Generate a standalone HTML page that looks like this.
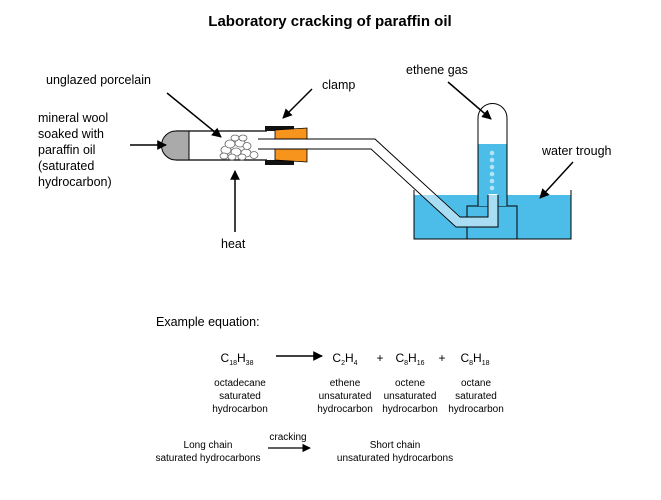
<!DOCTYPE html>
<html><head><meta charset="utf-8"><style>
html,body{margin:0;padding:0;background:#fff;}
svg{display:block;font-family:"Liberation Sans",sans-serif;}
</style></head><body>
<svg width="661" height="500" viewBox="0 0 661 500">
<defs><marker id="ah" viewBox="0 0 10 10" refX="9" refY="5" markerWidth="6.5" markerHeight="6.5" orient="auto"><path d="M0,0L10,5L0,10z" fill="#000"/></marker>
<clipPath id="wc"><rect x="414" y="195" width="157" height="44"/></clipPath></defs>
<text x="330" y="26" text-anchor="middle" font-size="15" font-weight="bold">Laboratory cracking of paraffin oil</text>

<g>
<path d="M176,131 H267 M176,160 H267" stroke="#000" stroke-width="1.2" fill="none"/>
<path d="M176,131 A14.5,14.5 0 0 0 176,160 H189 V131 Z" fill="#aaa" stroke="#000" stroke-width="1"/>
</g>
<g fill="#fff" stroke="#666" stroke-width="0.8">
<ellipse cx="226" cy="150" rx="5" ry="4"/><ellipse cx="236" cy="152" rx="5" ry="4"/><ellipse cx="246" cy="153" rx="5" ry="4"/><ellipse cx="254" cy="155" rx="4" ry="3.5"/>
<ellipse cx="224" cy="156" rx="4" ry="3"/><ellipse cx="232" cy="157" rx="4" ry="3"/><ellipse cx="242" cy="157" rx="4" ry="3"/>
<ellipse cx="230" cy="144" rx="5" ry="4"/><ellipse cx="240" cy="143" rx="5" ry="4"/><ellipse cx="247" cy="146" rx="4" ry="3.5"/><ellipse cx="235" cy="138" rx="4" ry="3"/><ellipse cx="243" cy="138" rx="4" ry="3"/>
</g>
<g>
<rect x="265" y="126" width="29" height="5" fill="#111"/><rect x="265" y="160" width="29" height="5" fill="#111"/>
<path d="M275,130 L307,128 V162 L275,160 Z" fill="#f7941d" stroke="#000" stroke-width="0.8"/>
</g>
<g>
<rect x="414" y="195" width="157" height="44" fill="#4bbde8"/>
<path d="M414,190 V239 H571 V190" stroke="#000" stroke-width="1" fill="none"/>
<rect x="467" y="206" width="50" height="33" fill="#4bbde8" stroke="#000" stroke-width="1"/>
</g>
<g>
<path d="M478,206 V118 A14.5,14.5 0 0 1 507,118 V206" fill="#fff" stroke="#000" stroke-width="1"/>
<rect x="478.5" y="144" width="28" height="62" fill="#4bbde8"/>
<g fill="#b5e4f7"><circle cx="492" cy="153" r="2.3"/><circle cx="492" cy="160" r="2.3"/><circle cx="492" cy="167" r="2.3"/><circle cx="492" cy="174" r="2.3"/><circle cx="492" cy="181" r="2.3"/><circle cx="492" cy="188" r="2.3"/></g>
</g>
<g fill="none">
<path d="M258,144 H373 L458,222 H493 V195" stroke="#000" stroke-width="11" stroke-linejoin="miter"/>
<path d="M258,144 H373 L458,222 H493 V194" stroke="#fff" stroke-width="9" stroke-linejoin="miter"/>
<path d="M258,144 H373 L458,222 H493 V194" stroke="#a8ddf3" stroke-width="9" stroke-linejoin="miter" clip-path="url(#wc)"/>
</g>

<g stroke="#000" stroke-width="1.5" marker-end="url(#ah)">
<line x1="130" y1="145" x2="166" y2="145"/>
<line x1="167" y1="93" x2="221" y2="137"/>
<line x1="312" y1="89" x2="283" y2="118"/>
<line x1="235" y1="232" x2="235" y2="171"/>
<line x1="448" y1="82" x2="491" y2="119"/>
<line x1="573" y1="162" x2="540" y2="198"/>
</g>
<g font-size="12.5">
<text x="46" y="84">unglazed porcelain</text>
<text x="322" y="89">clamp</text>
<text x="406" y="74">ethene gas</text>
<text x="542" y="155">water trough</text>
<text x="221" y="248">heat</text>
<text x="38" y="122"><tspan x="38">mineral wool</tspan><tspan x="38" dy="16">soaked with</tspan><tspan x="38" dy="16">paraffin oil</tspan><tspan x="38" dy="16">(saturated</tspan><tspan x="38" dy="16">hydrocarbon)</tspan></text>
<text x="156" y="326">Example equation:</text>
</g>
<g font-size="12" text-anchor="middle">
<text x="237" y="362">C<tspan font-size="7" dy="3">18</tspan><tspan dy="-3">H</tspan><tspan font-size="7" dy="3">38</tspan></text>
<text x="345" y="362">C<tspan font-size="7" dy="3">2</tspan><tspan dy="-3">H</tspan><tspan font-size="7" dy="3">4</tspan></text>
<text x="380" y="362">+</text>
<text x="410" y="362">C<tspan font-size="7" dy="3">8</tspan><tspan dy="-3">H</tspan><tspan font-size="7" dy="3">16</tspan></text>
<text x="442" y="362">+</text>
<text x="475" y="362">C<tspan font-size="7" dy="3">8</tspan><tspan dy="-3">H</tspan><tspan font-size="7" dy="3">18</tspan></text>
</g>
<line x1="276" y1="356" x2="322" y2="356" stroke="#000" stroke-width="1.5" marker-end="url(#ah)"/>
<g font-size="10" text-anchor="middle">
<text x="240" y="386"><tspan x="240">octadecane</tspan><tspan x="240" dy="13">saturated</tspan><tspan x="240" dy="13">hydrocarbon</tspan></text>
<text x="345" y="386"><tspan x="345">ethene</tspan><tspan x="345" dy="13">unsaturated</tspan><tspan x="345" dy="13">hydrocarbon</tspan></text>
<text x="410" y="386"><tspan x="410">octene</tspan><tspan x="410" dy="13">unsaturated</tspan><tspan x="410" dy="13">hydrocarbon</tspan></text>
<text x="476" y="386"><tspan x="476">octane</tspan><tspan x="476" dy="13">saturated</tspan><tspan x="476" dy="13">hydrocarbon</tspan></text>
<text x="208" y="448"><tspan x="208">Long chain</tspan><tspan x="208" dy="13">saturated hydrocarbons</tspan></text>
<text x="288" y="440">cracking</text>
<text x="395" y="448"><tspan x="395">Short chain</tspan><tspan x="395" dy="13">unsaturated hydrocarbons</tspan></text>
</g>
<line x1="268" y1="448" x2="310" y2="448" stroke="#000" stroke-width="1.3" marker-end="url(#ah)"/>
</svg>
</body></html>
